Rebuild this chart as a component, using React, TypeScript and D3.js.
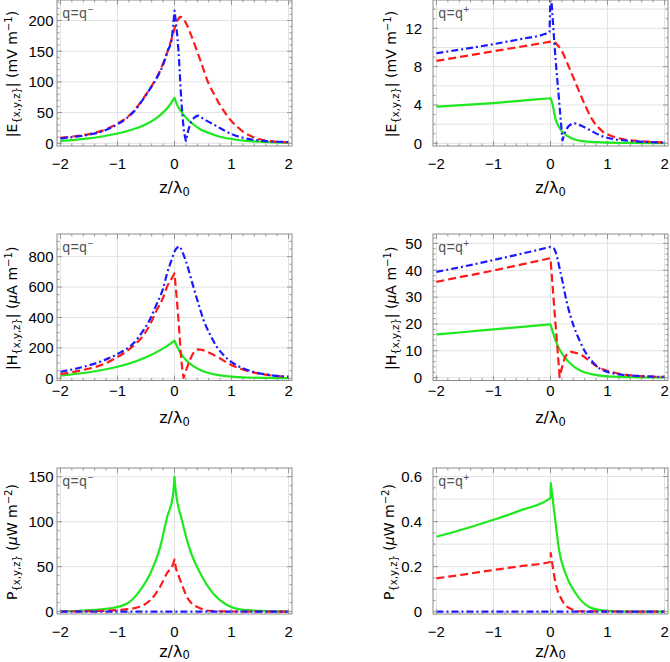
import * as d3 from "d3";

type Pt = [number, number];

// ── Data: [z/λ0, value] ─────────────────────────────────────────────

// |E| (mV m^-1), q = q-
const eMinusGreen: Pt[] = [
  [-2, 4], [-1.75, 5.5], [-1.5, 8], [-1.25, 11.5], [-1, 16], [-0.75, 22], [-0.5, 31],
  [-0.35, 39], [-0.25, 46], [-0.12, 58], [0, 74], [0.05, 62], [0.1, 54], [0.2, 42],
  [0.3, 33], [0.45, 23], [0.6, 17], [0.75, 12], [1, 7], [1.25, 4], [1.5, 2.5], [1.75, 1.6], [2, 1],
];
const eMinusRed: Pt[] = [
  [-2, 9], [-1.75, 11.5], [-1.5, 15], [-1.25, 21], [-1, 32], [-0.85, 41], [-0.72, 52],
  [-0.54, 74], [-0.37, 98], [-0.25, 119], [-0.12, 150], [-0.05, 170], [0, 187], [0.05, 200],
  [0.1, 206], [0.15, 204], [0.2, 196], [0.3, 174], [0.45, 136], [0.6, 97], [0.7, 79],
  [0.8, 62], [0.9, 48], [1, 36], [1.1, 27], [1.2, 19], [1.4, 9.5], [1.6, 4.5], [1.8, 2.5], [2, 1.5],
];
const eMinusBlue: Pt[] = [
  [-2, 8], [-1.75, 10.5], [-1.5, 14], [-1.25, 20], [-1, 31], [-0.85, 40], [-0.72, 51],
  [-0.54, 73], [-0.42, 90], [-0.3, 108], [-0.2, 128], [-0.12, 150], [-0.05, 170], [0, 216],
  [0.07, 150], [0.12, 70], [0.16, 25], [0.2, 4], [0.27, 30], [0.35, 42], [0.42, 45],
  [0.56, 37], [0.7, 30], [0.85, 22], [1, 15], [1.2, 9], [1.4, 5.5], [1.6, 3.5], [1.8, 2.5], [2, 2],
];

// |E| (mV m^-1), q = q+
const ePlusGreen: Pt[] = [
  [-2, 3.82], [-1.5, 4.0], [-1, 4.2], [-0.5, 4.45], [0, 4.7], [0.03, 4.2], [0.09, 2.5],
  [0.14, 1.8], [0.2, 1.25], [0.3, 0.75], [0.44, 0.38], [0.6, 0.2], [0.9, 0.1], [1.3, 0.05], [2, 0.02],
];
const ePlusRed: Pt[] = [
  [-2, 8.6], [-1.5, 9.1], [-1, 9.6], [-0.5, 10.1], [0, 10.6], [0.05, 10.65], [0.1, 10.4],
  [0.2, 9.6], [0.32, 8.0], [0.44, 6.3], [0.56, 4.6], [0.73, 2.5], [0.9, 1.3], [1.1, 0.7],
  [1.3, 0.4], [1.6, 0.2], [2, 0.1],
];
const ePlusBlue: Pt[] = [
  [-2, 9.4], [-1.5, 9.85], [-1, 10.35], [-0.5, 10.9], [-0.1, 11.4], [-0.02, 11.6], [0, 16.5],
  [0.09, 8.7], [0.15, 4.5], [0.21, 0.3], [0.26, 1.2], [0.32, 1.8], [0.42, 2.1], [0.55, 1.8],
  [0.7, 1.35], [0.9, 0.75], [1.1, 0.45], [1.3, 0.3], [1.5, 0.2], [1.75, 0.12], [2, 0.08],
];

// |H| (μA m^-1), q = q-
const hMinusGreen: Pt[] = [
  [-2, 18], [-1.5, 40], [-1.25, 56], [-1, 76], [-0.75, 102], [-0.5, 138], [-0.25, 185],
  [-0.1, 220], [0, 247], [0.1, 170], [0.2, 120], [0.3, 88], [0.45, 55], [0.6, 35],
  [0.75, 22], [1, 11], [1.3, 5], [1.6, 2.5], [2, 1],
];
const hMinusRed: Pt[] = [
  [-2, 28], [-1.6, 55], [-1.3, 85], [-1, 140], [-0.75, 205], [-0.54, 285], [-0.42, 360],
  [-0.31, 449], [-0.2, 530], [-0.13, 603], [-0.05, 655], [0, 690], [0.07, 383], [0.12, 120],
  [0.16, 2], [0.22, 70], [0.27, 120], [0.33, 165], [0.42, 190], [0.5, 185], [0.63, 164],
  [0.8, 130], [0.93, 100], [1.22, 55], [1.63, 22], [2, 10],
];
const hMinusBlue: Pt[] = [
  [-2, 43], [-1.59, 76], [-1.3, 109], [-1, 160], [-0.72, 230], [-0.54, 318], [-0.42, 395],
  [-0.31, 490], [-0.2, 590], [-0.13, 690], [-0.05, 780], [0, 833], [0.05, 860], [0.1, 866],
  [0.2, 770], [0.33, 603], [0.42, 490], [0.51, 383], [0.62, 290], [0.74, 208], [0.88, 145],
  [1.03, 99], [1.2, 66], [1.38, 43], [1.7, 20], [2, 10],
];

// |H| (μA m^-1), q = q+
const hPlusGreen: Pt[] = [
  [-2, 16.1], [-1.5, 17], [-1, 18], [-0.5, 18.9], [0, 19.9], [0.03, 17.7], [0.12, 12.2],
  [0.24, 7.8], [0.41, 4.1], [0.55, 2.4], [0.7, 1.4], [1, 0.5], [1.5, 0.15], [2, 0.05],
];
const hPlusRed: Pt[] = [
  [-2, 35.7], [-1.5, 37.8], [-1, 39.9], [-0.5, 42.2], [0, 44.5], [0.06, 27.7], [0.12, 11.5],
  [0.16, 0.2], [0.21, 4.5], [0.26, 7.8], [0.35, 9.6], [0.45, 9.2], [0.59, 7.8], [0.7, 5.9],
  [0.82, 4.1], [1.1, 2], [1.57, 0.6], [2, 0.3],
];
const hPlusBlue: Pt[] = [
  [-2, 39.4], [-1.5, 41.5], [-1, 43.8], [-0.5, 46.2], [0, 48.7], [0.06, 48.1], [0.18, 38.8],
  [0.29, 27.7], [0.41, 19], [0.5, 14.3], [0.59, 10.3], [0.7, 6.8], [0.82, 4.1], [1.1, 1.6],
  [1.57, 0.6], [2, 0.3],
];

// P (μW m^-2), q = q-
const pMinusGreen: Pt[] = [
  [-2, 0.3], [-1.59, 1.3], [-1.13, 3.7], [-0.83, 9], [-0.6, 24], [-0.42, 43], [-0.25, 72],
  [-0.13, 105], [-0.03, 128], [0, 150], [0.02, 135], [0.13, 102], [0.27, 69], [0.45, 43],
  [0.68, 20], [0.92, 7.4], [1.15, 2.5], [1.5, 0.8], [2, 0.2],
];
const pMinusRed: Pt[] = [
  [-2, 0.2], [-1.3, 0.8], [-1, 1.8], [-0.72, 3.7], [-0.42, 13], [-0.25, 28], [-0.13, 43],
  [-0.03, 52], [0, 58], [0.02, 50], [0.06, 42], [0.13, 30], [0.25, 13], [0.45, 3.7],
  [0.6, 1], [1, 0.2], [2, 0],
];
const pMinusBlue: Pt[] = [[-2, 0], [-1, 0], [0, 0], [1, 0], [2, 0]];

// P (μW m^-2), q = q+
const pPlusGreen: Pt[] = [
  [-2, 0.333], [-1.5, 0.368], [-1, 0.408], [-0.5, 0.452], [0, 0.505], [0.005, 0.571],
  [0.09, 0.393], [0.15, 0.274], [0.26, 0.171], [0.44, 0.082], [0.67, 0.022], [0.9, 0.006],
  [1.2, 0.001], [2, 0],
];
const pPlusRed: Pt[] = [
  [-2, 0.148], [-1.5, 0.166], [-1, 0.185], [-0.5, 0.203], [0, 0.222], [0.005, 0.26],
  [0.09, 0.126], [0.2, 0.052], [0.3, 0.02], [0.38, 0.01], [0.5, 0.002], [2, 0],
];
const pPlusBlue: Pt[] = [[-2, 0], [-1, 0], [0, 0], [1, 0], [2, 0]];

const xTicks = [-2, -1, 0, 1, 2];

// ── Layout & styles ─────────────────────────────────────────────────

const W = 670;
const H = 662;
const X_DOMAIN: [number, number] = [-2.06, 2.06];

const COLS = [
  { x0: 57, x1: 292, labelX: 17, tickRight: 53.5 },
  { x0: 433, x1: 668, labelX: 396, tickRight: 422 },
];
const ROWS = [
  { y0: 0, y1: 146, tickY: 168.6, titleY: 193 },
  { y0: 234, y1: 380.5, tickY: 396, titleY: 423 },
  { y0: 468, y1: 614, tickY: 637, titleY: 656.5 },
];

const FONT_TICK = "'Liberation Sans', Arial, sans-serif";
const FONT_LABEL = "'DejaVu Sans', Verdana, sans-serif";
const FONT_TAG = "'Liberation Mono', 'Courier New', monospace";

const GREEN = "#1ee81e";
const RED = "#ff1a1a";
const BLUE = "#1a1aff";
const FRAME = "#8c8c8c";
const GRID = "#e2e2e2";

type Part = { t: string; sub?: boolean; sup?: boolean; it?: boolean };

const labelE: Part[] = [{ t: "|E" }, { t: "{x,y,z}", sub: true }, { t: "| (mV m" }, { t: "−1", sup: true }, { t: ")" }];
const labelH: Part[] = [{ t: "|H" }, { t: "{x,y,z}", sub: true }, { t: "| (" }, { t: "μ", it: true }, { t: "A m" }, { t: "−1", sup: true }, { t: ")" }];
const labelP: Part[] = [{ t: "P" }, { t: "{x,y,z}", sub: true }, { t: " (" }, { t: "μ", it: true }, { t: "W m" }, { t: "−2", sup: true }, { t: ")" }];

interface PanelSpec {
  row: number;
  col: number;
  sign: string;
  yDomain: [number, number];
  labelStep: number;
  minorStep: number;
  gridStep: number;
  label: Part[];
  green: Pt[];
  red: Pt[];
  blue: Pt[];
}

const panels: PanelSpec[] = [
  { row: 0, col: 0, sign: "−", yDomain: [-4.4, 233.4], labelStep: 50, minorStep: 10, gridStep: 50, label: labelE, green: eMinusGreen, red: eMinusRed, blue: eMinusBlue },
  { row: 0, col: 1, sign: "+", yDomain: [-0.28, 14.95], labelStep: 4, minorStep: 1, gridStep: 2, label: labelE, green: ePlusGreen, red: ePlusRed, blue: ePlusBlue },
  { row: 1, col: 0, sign: "−", yDomain: [-14.5, 949], labelStep: 200, minorStep: 50, gridStep: 200, label: labelH, green: hMinusGreen, red: hMinusRed, blue: hMinusBlue },
  { row: 1, col: 1, sign: "+", yDomain: [-1.05, 53.5], labelStep: 10, minorStep: 2, gridStep: 10, label: labelH, green: hPlusGreen, red: hPlusRed, blue: hPlusBlue },
  { row: 2, col: 0, sign: "−", yDomain: [-2.6, 159.7], labelStep: 50, minorStep: 10, gridStep: 50, label: labelP, green: pMinusGreen, red: pMinusRed, blue: pMinusBlue },
  { row: 2, col: 1, sign: "+", yDomain: [-0.0102, 0.638], labelStep: 0.2, minorStep: 0.05, gridStep: 0.1, label: labelP, green: pPlusGreen, red: pPlusRed, blue: pPlusBlue },
];

function steps(lo: number, hi: number, step: number): number[] {
  const start = Math.ceil(lo / step - 1e-9);
  const end = Math.floor(hi / step + 1e-9);
  return d3.range(start, end + 1).map((i) => +(i * step).toFixed(6));
}

// Smooth (monotone) between turning points, sharp corners at the cusps.
function smoothPath(data: Pt[], x: d3.ScaleLinear<number, number>, y: d3.ScaleLinear<number, number>): string {
  const gen = d3
    .line<Pt>()
    .x((d) => x(d[0]))
    .y((d) => y(d[1]))
    .curve(d3.curveMonotoneX);
  const cuts = [0];
  for (let i = 1; i < data.length - 1; i++) {
    const a = data[i][1] - data[i - 1][1];
    const b = data[i + 1][1] - data[i][1];
    if (a * b < 0) cuts.push(i);
  }
  cuts.push(data.length - 1);
  let d = "";
  for (let k = 0; k < cuts.length - 1; k++) {
    const seg = gen(data.slice(cuts[k], cuts[k + 1] + 1)) ?? "";
    d += k === 0 ? seg : seg.replace(/^M[^CL]*/, "");
  }
  return d;
}

function RichText({ parts, size }: { parts: Part[]; size: number }) {
  let offset = 0;
  return (
    <>
      {parts.map((p, i) => {
        const target = p.sub ? 2.8 : p.sup ? -5.5 : 0;
        const dy = target - offset;
        offset = target;
        return (
          <tspan
            key={i}
            dy={dy}
            fontSize={p.sub || p.sup ? size * 0.72 : size}
            fontStyle={p.it ? "italic" : "normal"}
          >
            {p.t}
          </tspan>
        );
      })}
    </>
  );
}

function Panel({ spec, idx }: { spec: PanelSpec; idx: number }) {
  const c = COLS[spec.col];
  const r = ROWS[spec.row];
  const x = d3.scaleLinear().domain(X_DOMAIN).range([c.x0, c.x1]);
  const y = d3.scaleLinear().domain(spec.yDomain).range([r.y1, r.y0]);
  const [lo, hi] = spec.yDomain;

  const yLabels = steps(Math.max(lo, 0), hi, spec.labelStep);
  const yMinor = steps(lo, hi, spec.minorStep);
  const yGrid = steps(lo, hi, spec.gridStep);
  const xMinor = steps(X_DOMAIN[0], X_DOMAIN[1], 0.2);
  const fmt = spec.labelStep < 1 ? (v: number) => (v === 0 ? "0" : d3.format(".1f")(v)) : d3.format("d");
  const clipId = `clip-${idx}`;
  const midY = (r.y0 + r.y1) / 2 + 1;
  const labelX = c.labelX - (spec.row === 2 && spec.col === 1 ? 2 : 0);
  const isMajorY = (v: number) => Math.abs(v / spec.labelStep - Math.round(v / spec.labelStep)) < 1e-6;
  const isMajorX = (v: number) => Math.abs(v - Math.round(v)) < 1e-6;

  return (
    <g>
      <defs>
        <clipPath id={clipId}>
          <rect x={c.x0} y={r.y0} width={c.x1 - c.x0} height={r.y1 - r.y0} />
        </clipPath>
      </defs>

      {/* grid */}
      {xTicks.map((t) => (
        <line key={`gx${t}`} x1={x(t)} x2={x(t)} y1={r.y0} y2={r.y1} stroke={GRID} strokeWidth={1} />
      ))}
      {yGrid.map((t) => (
        <line key={`gy${t}`} x1={c.x0} x2={c.x1} y1={y(t)} y2={y(t)} stroke={GRID} strokeWidth={1} />
      ))}

      {/* curves */}
      <g clipPath={`url(#${clipId})`} fill="none" strokeWidth={2.2} strokeLinejoin="round">
        <path d={smoothPath(spec.green, x, y)} stroke={GREEN} />
        <path d={smoothPath(spec.red, x, y)} stroke={RED} strokeDasharray="8,4" />
        <path d={smoothPath(spec.blue, x, y)} stroke={BLUE} strokeDasharray="7,3,2,3" />
      </g>

      {/* frame ticks (inward, all four sides) */}
      <g stroke={FRAME} strokeWidth={0.9}>
        {xMinor.map((t) => {
          const len = isMajorX(t) ? 5 : 2.5;
          return (
            <g key={`tx${t}`}>
              <line x1={x(t)} x2={x(t)} y1={r.y1} y2={r.y1 - len} />
              <line x1={x(t)} x2={x(t)} y1={r.y0} y2={r.y0 + len} />
            </g>
          );
        })}
        {yMinor.map((t) => {
          const len = isMajorY(t) ? 5 : 2.5;
          return (
            <g key={`ty${t}`}>
              <line x1={c.x0} x2={c.x0 + len} y1={y(t)} y2={y(t)} />
              <line x1={c.x1} x2={c.x1 - len} y1={y(t)} y2={y(t)} />
            </g>
          );
        })}
      </g>
      <rect x={c.x0} y={r.y0} width={c.x1 - c.x0} height={r.y1 - r.y0} fill="none" stroke={FRAME} strokeWidth={1} />

      {/* tick labels */}
      <g fontFamily={FONT_TICK} fontSize={15} fill="#000">
        {xTicks.map((t) => (
          <text key={`lx${t}`} x={x(t)} y={r.tickY} textAnchor="middle">
            {t < 0 ? `−${Math.abs(t)}` : `${t}`}
          </text>
        ))}
        {yLabels.map((t) => (
          <text key={`ly${t}`} x={c.tickRight} y={y(t) + 5.3} textAnchor="end">
            {fmt(t)}
          </text>
        ))}
      </g>

      {/* axis titles */}
      <text x={(c.x0 + c.x1) / 2} y={r.titleY} textAnchor="middle" fontFamily={FONT_LABEL} fontSize={16} fill="#000">
        <RichText parts={[{ t: "z/λ" }, { t: "0", sub: true }]} size={16} />
      </text>
      <text
        transform={`translate(${labelX},${midY}) rotate(-90)`}
        textAnchor="middle"
        fontFamily={FONT_LABEL}
        fontSize={14}
        fill="#000"
      >
        <RichText parts={spec.label} size={14} />
      </text>

      {/* q tag */}
      <text x={c.x0 + 5} y={r.y0 + 18} fontFamily={FONT_TAG} fontSize={14} fill="#555">
        <tspan>q=q</tspan>
        <tspan dy={-5.5} fontSize={10}>{spec.sign}</tspan>
      </text>
    </g>
  );
}

export default function App() {
  return (
    <svg
      width={W}
      height={H}
      viewBox={`0 0 ${W} ${H}`}
      style={{ position: "absolute", left: 0, top: 0, background: "#fff" }}
    >
      <rect width={W} height={H} fill="#fff" />
      {panels.map((p, i) => (
        <Panel key={i} spec={p} idx={i} />
      ))}
    </svg>
  );
}
